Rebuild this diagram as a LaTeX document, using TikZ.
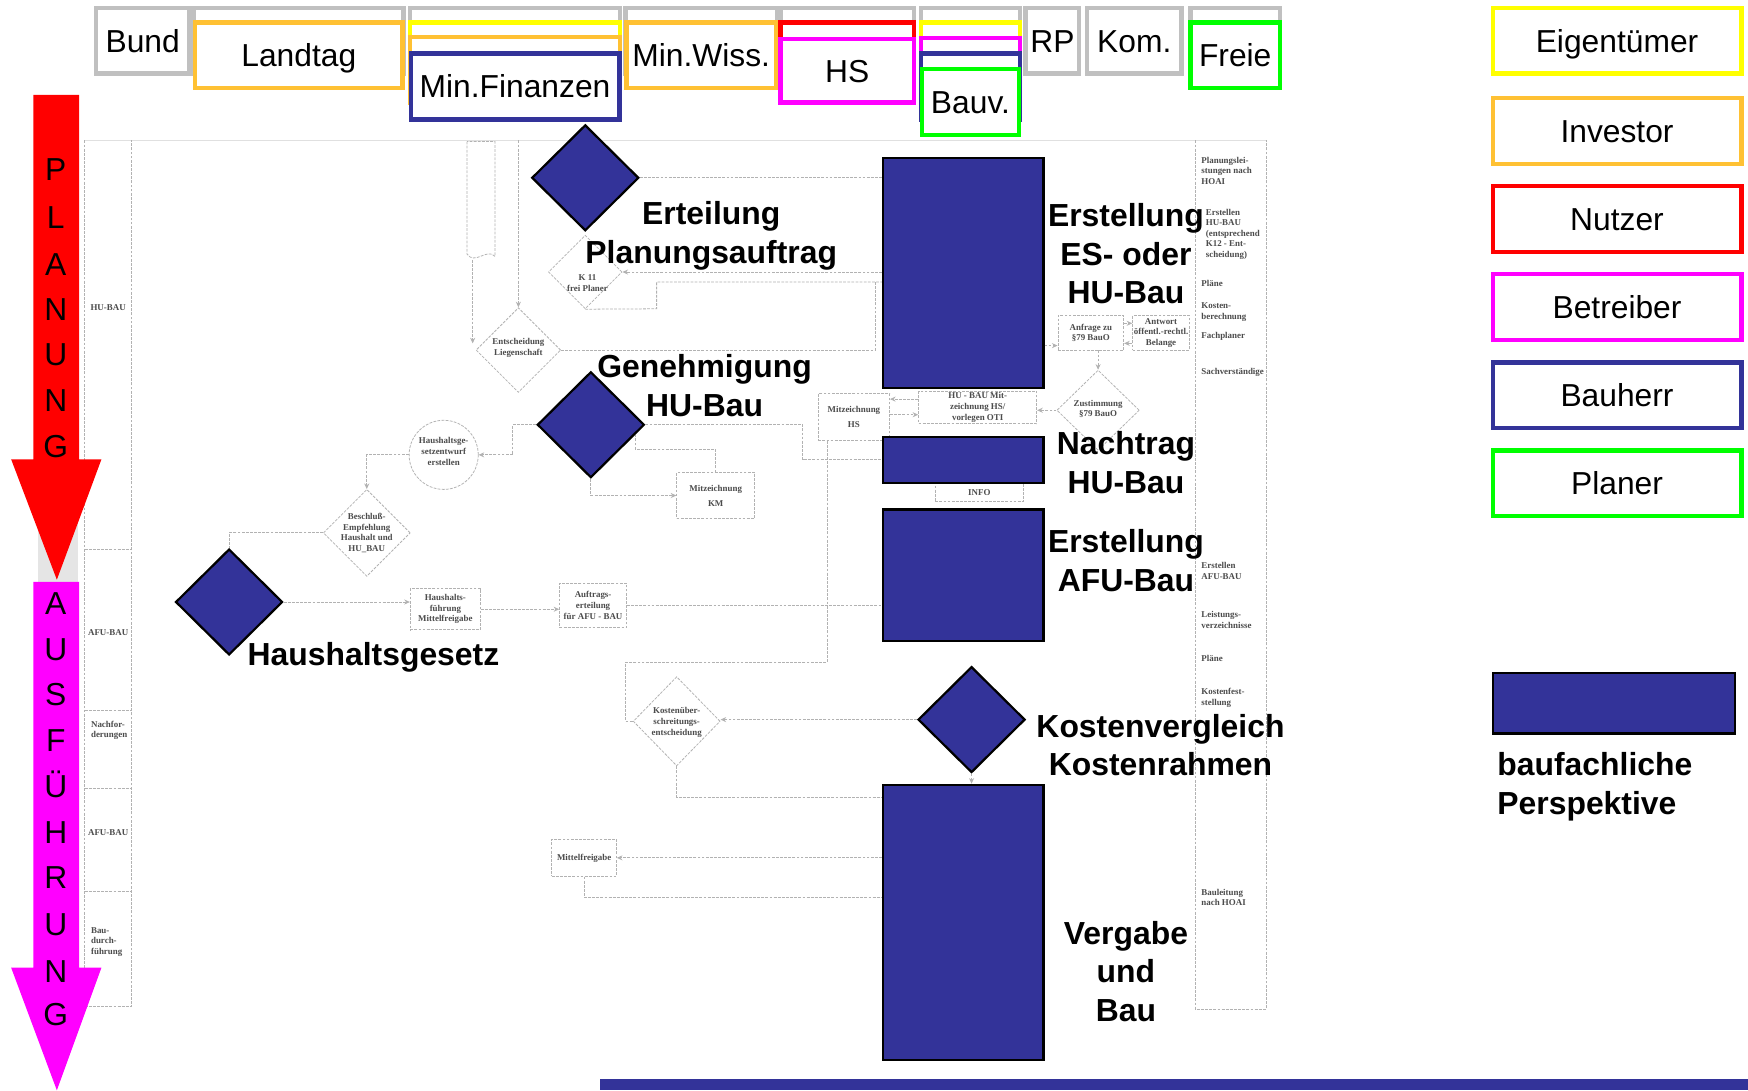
\documentclass[tikz,border=0pt]{standalone}
\usepackage{fontspec}
\setmainfont{Liberation Sans}
\newfontfamily\scanserif{Liberation Serif}
\usetikzlibrary{arrows.meta,shapes.geometric}

\definecolor{bhblue}{HTML}{333399}
\definecolor{rolegray}{HTML}{C0C0C0}
\definecolor{roleorange}{HTML}{FFC133}
\definecolor{roleyellow}{HTML}{FFFF00}
\definecolor{rolered}{HTML}{FF0000}
\definecolor{rolemagenta}{HTML}{FF00FF}
\definecolor{rolegreen}{HTML}{00FF00}
\definecolor{scanline}{gray}{0.70}
\definecolor{scantext}{gray}{0.30}

\newcommand\hdrfont{\fontsize{28.5}{34}\selectfont}
\newcommand\boldlab{\fontsize{28.6}{34.5}\selectfont\bfseries}
\newcommand\phasefont{\fontsize{28.5}{29}\selectfont}
\newcommand\scansize{\scanserif\bfseries\fontsize{8}{9.5}\selectfont}

\tikzset{
  rolebox/.style={rectangle, draw=#1, line width=4pt, fill=white, inner sep=0pt,
    minimum height=59pt, font=\hdrfont, text=black, text height=20.5pt, text depth=0pt},
  bhdia/.style={diamond, draw=black, line width=2pt, fill=bhblue, inner sep=0pt,
    minimum width=96pt, minimum height=95pt},
  bhrect/.style={rectangle, draw=black, line width=2pt, fill=bhblue, inner sep=0pt,
    minimum width=144pt},
  phaselabel/.style={font=\boldlab, align=center, inner sep=0pt, text=black},
  phaseletter/.style={font=\phasefont, inner sep=0pt, text=black, text height=20.5pt, text depth=0pt},
  scanln/.style={draw=scanline, line width=0.7pt, dash pattern=on 2.5pt off 1.2pt},
  scanarr/.style={scanln, -{Stealth[length=5pt,width=4.5pt]}},
  scantxt/.style={font=\scansize, text=scantext, align=center, inner sep=0.5pt},
  scanbox/.style={scanln, scantxt, rectangle},
  scandia/.style={scanln, diamond, inner sep=0pt},
  lanetxt/.style={scantxt, align=left, anchor=west},
}

\begin{document}
\begin{tikzpicture}[x=1pt,y=-1pt]
\useasboundingbox[fill=white] (0,0) rectangle (1568,978);

% ---------------- scanned process chart (faint background) ----------------
\fill[black!10] (34,466) rectangle (70,522);
\draw[black!12, line width=0.5pt] (76,126) -- (1136,126);
% left lane
\draw[scanln] (76,126) -- (76,903) -- (118,903) -- (118,126);
\foreach \yy in {493,637,707,800} \draw[scanln] (76,\yy) -- (118,\yy);
\node[scantxt] (laneHU) at (97,276) {HU-BAU};
\node[scantxt] (laneAFUa) at (97,567) {AFU-BAU};
\node[lanetxt] (laneNF) at (81,655) {Nachfor-\\derungen};
\node[scantxt] (laneAFUb) at (97,747) {AFU-BAU};
\node[lanetxt] (laneBD) at (81,845) {Bau-\\durch-\\führung};
% right lane
\draw[scanln] (1072,126) -- (1072,905) -- (1136,905) -- (1136,126);
\node[lanetxt] (rl1) at (1077,153) {Planungslei-\\stungen nach\\HOAI};
\node[lanetxt] (rl2) at (1081,210) {Erstellen\\HU-BAU\\(entsprechend\\K12 - Ent-\\scheidung)};
\node[lanetxt] (rl3) at (1077,254) {Pläne};
\node[lanetxt] (rl4) at (1077,280) {Kosten-\\berechnung};
\node[lanetxt] (rl5) at (1077,302) {Fachplaner};
\node[lanetxt] (rl6) at (1077,334) {Sachverständige};
\node[lanetxt] (rl7) at (1077,512) {Erstellen\\AFU-BAU};
\node[lanetxt] (rl8) at (1077,556) {Leistungs-\\verzeichnisse};
\node[lanetxt] (rl9) at (1077,591) {Pläne};
\node[lanetxt] (rl10) at (1077,626) {Kostenfest-\\stellung};
\node[lanetxt] (rl11) at (1077,805) {Bauleitung\\nach HOAI};

% document symbol
\draw[scanln] (419,127) -- (419,228) .. controls (426,238) and (437,222) .. (444,230) -- (444,127) -- cycle;
\coordinate (docb) at (424,233);
\coordinate (scantop) at (465,126);

% chart elements
\node[scandia, minimum width=76pt, minimum height=76pt] (ent) at (465,314) {};
\node[scantxt] (entT) at (465,312) {Entscheidung\\Liegenschaft};
\node[scandia, minimum width=66pt, minimum height=66pt] (k11) at (525,244) {};
\node[scantxt] (k11T) at (527,254) {K 11\\frei Planer};
\node[scanln, circle, minimum size=62pt, inner sep=0pt] (hge) at (398,408) {};
\node[scantxt] (hgeT) at (398,405) {Haushaltsge-\\setzentwurf\\erstellen};
\node[scandia, minimum width=78pt, minimum height=78pt] (besch) at (329,478) {};
\node[scantxt] (beschT) at (329,478) {Beschluß-\\Empfehlung\\Haushalt und\\HU\_BAU};
\node[scanbox, minimum width=63pt, minimum height=37pt] (hfm) at (399.5,546.5) {Haushalts-\\führung\\Mittelfreigabe};
\node[scanbox, minimum width=60pt, minimum height=40pt] (auft) at (532,543) {Auftrags-\\erteilung\\für AFU - BAU};
\node[scanbox, minimum width=70pt, minimum height=41pt] (mkm) at (642,444.5) {Mitzeichnung\\[4pt]KM};
\node[scanbox, minimum width=64pt, minimum height=42pt] (mhs) at (766,374) {Mitzeichnung\\[4pt]HS};
\node[scanbox, minimum width=106pt, minimum height=29pt] (humz) at (877,365.5) {HU - BAU Mit-\\zeichnung HS/\\vorlegen OTI};
\node[scandia, minimum width=74pt, minimum height=72pt] (zust) at (985,368) {};
\node[scantxt] (zustT) at (985,367) {Zustimmung\\§79 BauO};
\node[scanbox, minimum width=59pt, minimum height=31pt] (anf) at (978.5,298.5) {Anfrage zu\\§79 BauO};
\node[scanbox, minimum width=51pt, minimum height=31pt] (antw) at (1041.5,298.5) {Antwort\\öffentl.-rechtl.\\Belange};
\node[scanbox, minimum width=79pt, minimum height=17pt] (info) at (878.5,441.5) {INFO};
\node[scandia, minimum width=78pt, minimum height=80pt] (kue) at (607,647) {};
\node[scantxt] (kueT) at (607,648) {Kostenüber-\\schreitungs-\\entscheidung};
\node[scanbox, minimum width=58pt, minimum height=33pt] (mfg) at (524,769.5) {Mittelfreigabe};

% ---------------- phase arrows ----------------
\fill[rolered] (30,85) -- (71,85) -- (71,412) -- (91,412) -- (51,520) -- (10,412) -- (30,412) -- cycle;
\fill[rolemagenta] (30,522) -- (71,522) -- (71,868) -- (91,868) -- (51,978) -- (10,868) -- (30,868) -- cycle;
\foreach \ch/\yy [count=\i] in {P/152,L/195,A/237,N/277,U/318,N/359,G/400}
  \node[phaseletter] (plan\i) at (50,\yy) {\ch};
\foreach \ch/\yy [count=\i] in {A/541,U/582,S/623,F/664,Ü/705,H/746,R/787,U/829,N/871,G/910}
  \node[phaseletter] (ausf\i) at (50,\yy) {\ch};

% ---------------- role columns ----------------
\node[rolebox=rolegray, minimum width=84pt] (bund) at (128,36.5) {Bund};
\node[rolebox=rolegray, minimum width=188pt] (landtagG) at (268,36.5) {};
\node[rolebox=roleorange, minimum width=186pt] (landtag) at (268,49.5) {Landtag};
\node[rolebox=rolegray, minimum width=188pt] (finG) at (462,36.5) {};
\node[rolebox=roleyellow, minimum width=188pt] (finY) at (462,49.5) {};
\node[rolebox=roleorange, minimum width=188pt] (finO) at (462,62.5) {};
\node[rolebox=bhblue, minimum width=187pt] (minfin) at (462,77.5) {Min.Finanzen};
\node[rolebox=rolegray, minimum width=136pt] (wissG) at (629,36.5) {};
\node[rolebox=roleorange, minimum width=134pt] (minwiss) at (629,49.5) {Min.Wiss.};
\node[rolebox=rolegray, minimum width=120pt] (hsG) at (760,36.5) {};
\node[rolebox=rolered, minimum width=120pt] (hsR) at (760,49.5) {};
\node[rolebox=rolemagenta, minimum width=120pt, minimum height=57pt] (hs) at (760,63.5) {HS};
\node[rolebox=rolegray, minimum width=89pt] (bauvG) at (870.5,36.5) {};
\node[rolebox=roleyellow, minimum width=89pt] (bauvY) at (870.5,49.5) {};
\node[rolebox=rolemagenta, minimum width=89pt] (bauvM) at (870.5,63.5) {};
\node[rolebox=bhblue, minimum width=89pt] (bauvB) at (870.5,77.5) {};
\node[rolebox=rolegreen, minimum width=87pt] (bauv) at (870.5,91.5) {Bauv.};
\node[rolebox=rolegray, minimum width=48pt] (rp) at (944,36.5) {RP};
\node[rolebox=rolegray, minimum width=85pt] (kom) at (1017.5,36.5) {Kom.};
\node[rolebox=rolegray, minimum width=80pt] (freieG) at (1108,36.5) {};
\node[rolebox=rolegreen, minimum width=80pt] (freie) at (1108,49.5) {Freie};

% ---------------- legend ----------------
\node[rolebox=roleyellow, minimum width=223pt] (legEig) at (1450.5,36.5) {Eigentümer};
\node[rolebox=roleorange, minimum width=223pt] (legInv) at (1450.5,117.5) {Investor};
\node[rolebox=rolered, minimum width=223pt] (legNutz) at (1450.5,196.5) {Nutzer};
\node[rolebox=rolemagenta, minimum width=223pt] (legBetr) at (1450.5,275.5) {Betreiber};
\node[rolebox=bhblue, minimum width=223pt] (legBh) at (1450.5,354.5) {Bauherr};
\node[rolebox=rolegreen, minimum width=223pt] (legPl) at (1450.5,433.5) {Planer};
\node[bhrect, minimum width=217pt, minimum height=54pt] (legPersp) at (1447.5,631) {};
\node[phaselabel, align=left, anchor=north west] (legPerspT) at (1343,675) {baufachliche\\Perspektive};

% ---------------- building-side milestones ----------------
\node[bhdia] (d1) at (525,159.5) {};
\node[bhdia] (d2) at (530,381) {};
\node[bhdia] (d3) at (205.5,540) {};
\node[bhdia] (d4) at (871.5,645.5) {};
\node[bhrect, minimum height=206pt] (r1) at (864,245) {};
\node[bhrect, minimum height=41pt] (r2) at (864,412.5) {};
\node[bhrect, minimum height=118pt] (r3) at (864,516) {};
\node[bhrect, minimum height=247pt] (r4) at (864,827.5) {};
\fill[bhblue] (538,968) rectangle (1568,978);

% ---------------- chart connectors ----------------
\draw[scanarr] (scantop) -- (ent.north);
\draw[scanarr] (docb) -- (424,308);
\draw[scanln] (ent.east) -- (785,314) -- (785,253);
\draw[scanln] (k11.south) -- (589,277) -- (589,253) -- (r1.west |- 0,253);
\draw[scanln] (d1.east) -- (r1.west |- d1.east);
\draw[scanarr] (r1.west |- k11.east) -- (k11.east);
\draw[scanarr] (d2.west) -- (460,381) |- (hge.east);
\draw[scanln] (d2.east) -- (720,381) |- (r2.west);
\draw[scanarr] (hge.west) -| (besch.north);
\draw[scanln] (besch.west) -| (d3.north);
\draw[scanarr] (d3.east) -- (hfm.west |- d3.east);
\draw[scanarr] (hfm.east) -- (auft.west |- hfm.east);
\draw[scanln] (auft.east) -- (r3.west |- auft.east);
\draw[scanarr] (d2.south) |- (mkm.west);
\draw[scanln] (mkm.north) -- (642,403) -- (570,403) -- (570,390);
\draw[scanarr] (humz.west |- 0,358) -- (mhs.east |- 0,358);
\draw[scanarr] (mhs.east |- 0,372) -- (humz.west |- 0,372);
\draw[scanarr] (zust.west) -- (humz.east |- zust.west);
\draw[scanarr] (anf.east |- 0,290) -- (antw.west |- 0,290);
\draw[scanarr] (antw.west |- 0,308) -- (anf.east |- 0,308);
\draw[scanarr] (r1.east |- 0,310) -- (anf.west |- 0,310);
\draw[scanarr] (zust.north |- anf.south) -- (zust.north);
\draw[scanln] (mhs.south -| 742,0) -- (742,594) -- (561,594) |- (kue.west);
\draw[scanarr] (d4.west) -- (kue.east |- d4.west);
\draw[scanln] (kue.south) |- (r4.west |- 0,715);
\draw[scanarr] (d4.south) -- (r4.north -| d4.south);
\draw[scanarr] (r4.west |- mfg.east) -- (mfg.east);
\draw[scanln] (mfg.south) |- (r4.west |- 0,805);

% ---------------- milestone labels ----------------
\node[phaselabel] (t1) at (638,211.5) {Erteilung\\Planungsauftrag};
\node[phaselabel] (t2) at (632,346) {Genehmigung\\HU-Bau};
\node[phaselabel] (t3) at (335,590) {Haushaltsgesetz};
\node[phaselabel] (t4) at (1010,227.5) {Erstellung\\ES- oder\\HU-Bau};
\node[phaselabel] (t5) at (1010,415) {Nachtrag\\HU-Bau};
\node[phaselabel] (t6) at (1010,503) {Erstellung\\AFU-Bau};
\node[phaselabel] (t7) at (1041,668.5) {Kostenvergleich\\Kostenrahmen};
\node[phaselabel] (t8) at (1010,871.5) {Vergabe\\und\\Bau};
\end{tikzpicture}
\end{document}
